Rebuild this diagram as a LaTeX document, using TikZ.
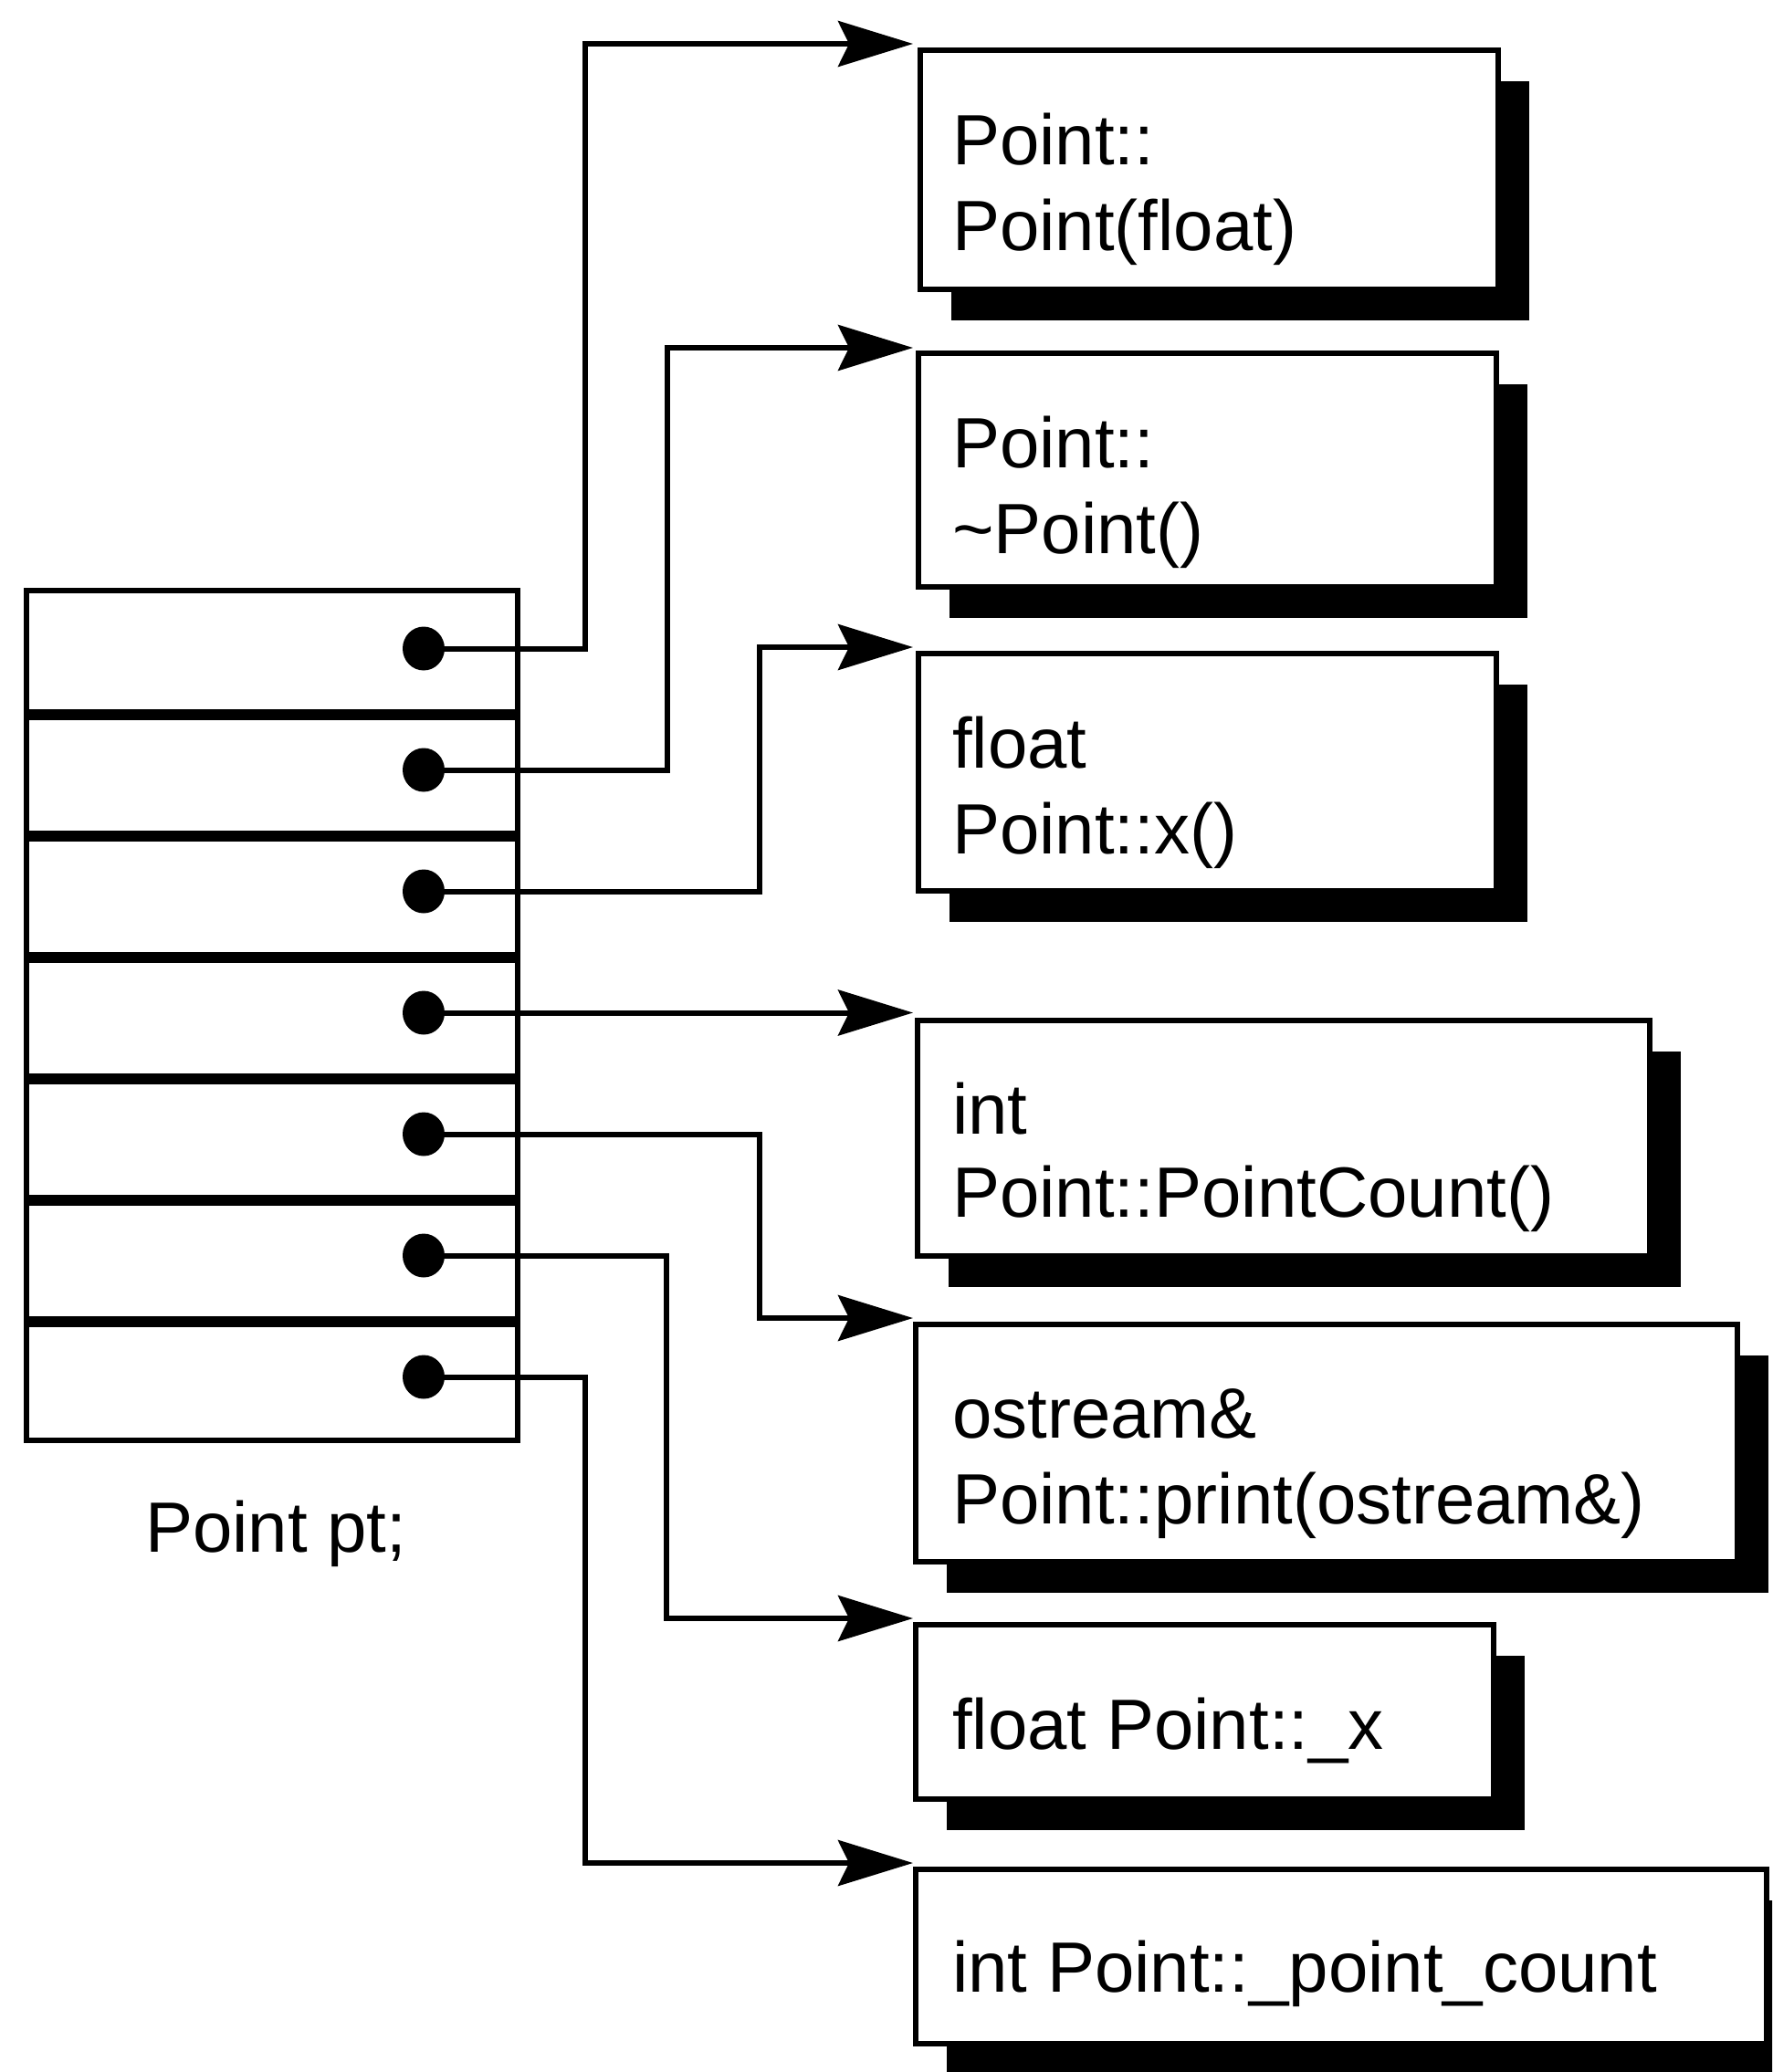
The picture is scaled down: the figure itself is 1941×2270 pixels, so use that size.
\documentclass[tikz,border=0pt]{standalone}
\usepackage{fontspec}
\setmainfont{Liberation Sans}
\usetikzlibrary{arrows.meta,shadows,shapes.geometric}
\begin{document}
\begin{tikzpicture}[x=1pt,y=-1pt,
  fnbox/.style={draw, line width=6pt, fill=white, rectangle, inner sep=0pt, anchor=north west,
     drop shadow={shadow xshift=34pt, shadow yshift=-34pt, opacity=1, fill=black}},
  lbl/.style={anchor=base west, inner sep=0pt, font=\fontsize{78pt}{92pt}\selectfont},
  conn/.style={line width=6pt, -{Stealth[length=82pt,width=50pt,inset=12pt]}},
  dotnode/.style={ellipse, fill=black, minimum width=46pt, minimum height=48pt, inner sep=0pt},
  rowbox/.style={draw, line width=6pt, rectangle, inner sep=0pt, anchor=north west,
     minimum width=538pt, minimum height=133pt},
  sepline/.style={line width=11pt},
]
\clip (0,0) rectangle (1941,2270);

% table rows
\foreach \k in {1,...,7}{
  \node[rowbox] (r\k) at (26,{644+133*(\k-1)}) {};
}
\foreach \k in {1,...,6}{
  \draw[sepline] (r\k.south west) -- (r\k.south east);
}
\node[lbl] (ptlabel) at (159,1700) {Point pt;};

% dots
\node[dotnode] (d1) at (464,710.5) {};
\node[dotnode] (d2) at (464,843.5) {};
\node[dotnode] (d3) at (464,976.5) {};
\node[dotnode] (d4) at (464,1109.5) {};
\node[dotnode] (d5) at (464,1242.5) {};
\node[dotnode] (d6) at (464,1375.5) {};
\node[dotnode] (d7) at (464,1508.5) {};

% function / member boxes
\node[fnbox, minimum width=633pt, minimum height=262pt] (b1) at (1005,52) {};
\node[fnbox, minimum width=633pt, minimum height=256pt] (b2) at (1003,384) {};
\node[fnbox, minimum width=633pt, minimum height=260pt] (b3) at (1003,713) {};
\node[fnbox, minimum width=802pt, minimum height=258pt] (b4) at (1002,1115) {};
\node[fnbox, minimum width=900pt, minimum height=260pt] (b5) at (1000,1448) {};
\node[fnbox, minimum width=633pt, minimum height=191pt] (b6) at (1000,1777) {};
\node[fnbox, minimum width=932pt, minimum height=191pt] (b7) at (1000,2045) {};

% texts
\node[lbl] (t1a) at (1043,180) {Point::};
\node[lbl] (t1b) at (1043,274) {Point(float)};
\node[lbl] (t2a) at (1043,512) {Point::};
\node[lbl] (t2b) at (1043,606) {\textasciitilde Point()};
\node[lbl] (t3a) at (1043,841) {float};
\node[lbl] (t3b) at (1043,935) {Point::x()};
\node[lbl] (t4a) at (1043,1242) {int};
\node[lbl] (t4b) at (1043,1333) {Point::PointCount()};
\node[lbl] (t5a) at (1043,1575) {ostream\&};
\node[lbl] (t5b) at (1043,1669) {Point::print(ostream\&)};
\node[lbl] (t6) at (1043,1916) {float Point::\_x};
\node[lbl] (t7) at (1043,2182) {int Point::\_point\_count};

% arrow tips
\coordinate (a1) at (1000,48);
\coordinate (a2) at (1000,381);
\coordinate (a3) at (1000,709);
\coordinate (a4) at (1000,1109.5);
\coordinate (a5) at (1000,1444);
\coordinate (a6) at (1000,1773);
\coordinate (a7) at (1000,2041);

% connectors
\draw[conn] (d1.center) -| (641,48) -- (a1);
\draw[conn] (d2.center) -| (731,381) -- (a2);
\draw[conn] (d3.center) -| (832,709) -- (a3);
\draw[conn] (d4.center) -- (a4);
\draw[conn] (d5.center) -| (832,1444) -- (a5);
\draw[conn] (d6.center) -| (730,1773) -- (a6);
\draw[conn] (d7.center) -| (641,2041) -- (a7);
\end{tikzpicture}
\end{document}
